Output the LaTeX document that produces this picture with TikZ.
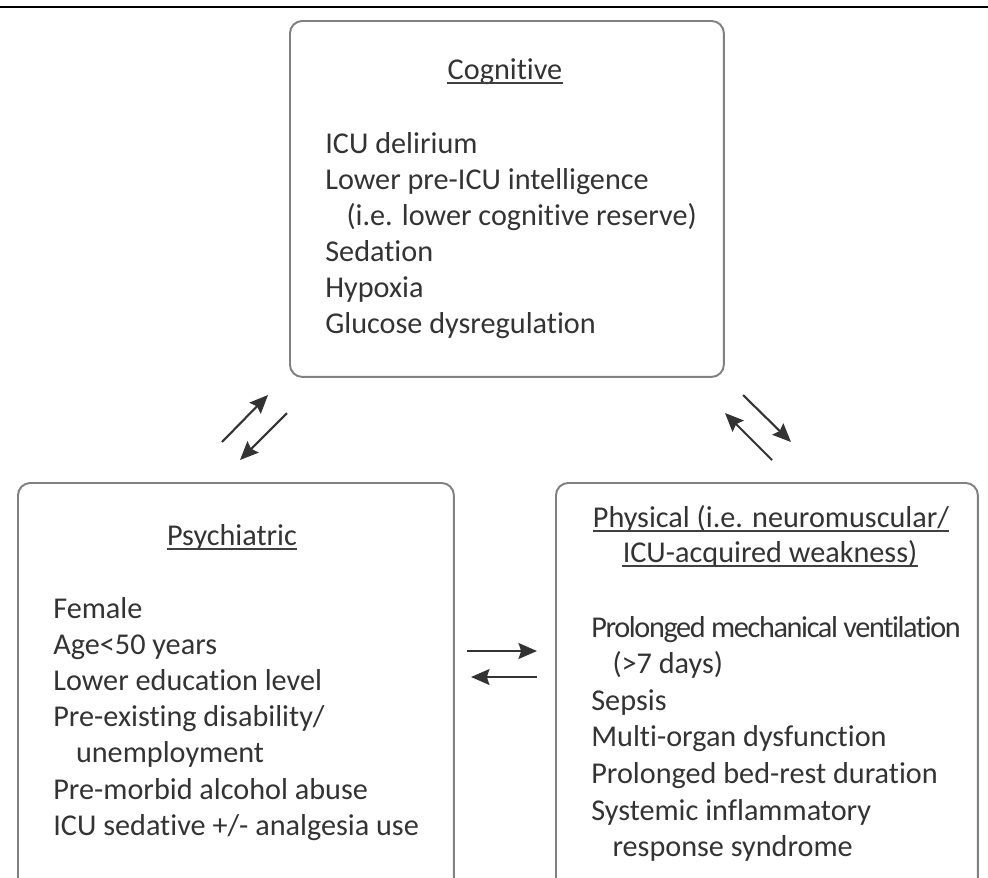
\documentclass[tikz,border=0pt]{standalone}
\usepackage{fontspec}
\setmainfont{Carlito}[Ligatures=CommonOff]
\usetikzlibrary{arrows.meta}
\newcommand{\riskfont}{\fontsize{17.2pt}{20pt}\selectfont}

\begin{document}
\begin{tikzpicture}[
        x=0.02cm, y=-0.02cm,
        panel/.style={draw=black!50, line width=1.1pt, rounded corners=7pt,
            anchor=north west, inner sep=0pt},
        heading/.style={anchor=base, inner sep=0pt, text=black!80, font=\riskfont},
        item/.style={anchor=base west, inner sep=0pt, text=black!80, font=\riskfont},
        uline/.style={draw=black!75, line width=1pt},
        link/.style={draw=black!80, line width=1.2pt,
            -{Stealth[length=10.5pt, width=9pt, inset=1.5pt]}}
    ]
    \useasboundingbox (0,0) rectangle (988,877);
    \draw[line width=1.1pt] (0,7) -- (988,7);

    % the three domains
    \node[panel, minimum width=8.68cm, minimum height=7.12cm] (cognitive) at (289,20) {};
    \node[panel, minimum width=8.72cm, minimum height=8.4cm] (psychiatric) at (17,482) {};
    \node[panel, minimum width=8.44cm, minimum height=8.4cm] (physical) at (555,482) {};

    \node[heading] (cog-title) at (505,79) {Cognitive};
    \node[heading] (psy-title) at (232,545) {Psychiatric};
    \node[heading] (phy-title) at (771,527) {Physical (i.e. neuromuscular/};
    \node[heading] (phy-title2) at (770,562) {ICU-acquired weakness)};
    \foreach \n in {cog-title, psy-title, phy-title, phy-title2}
        \draw[uline] ([yshift=-2.4pt]\n.base west) -- ([yshift=-2.4pt]\n.base east);

    % risk factors, one line each
    \foreach \t [count=\i] in {ICU delirium, Lower pre-ICU intelligence,
        \hspace*{0.7em}(i.e. lower cognitive reserve), Sedation, Hypoxia,
        Glucose dysregulation}
        \node[item] (cog-\i) at (325, 153+36*\i-36) {\t};
    \foreach \t [count=\i] in {Female, Age<50 years, Lower education level,
        Pre-existing disability/, \hspace*{0.75em}unemployment,
        Pre-morbid alcohol abuse, ICU sedative +/- analgesia use}
        \node[item] (psy-\i) at (53, 618+36.2*\i-36.2) {\t};
    \foreach \t [count=\i] in {{\addfontfeature{LetterSpace=-4.5}Prolonged mechanical ventilation},
        \hspace*{0.7em}(>7 days), Sepsis, Multi-organ dysfunction,
        Prolonged bed-rest duration, Systemic inflammatory,
        \hspace*{0.7em}response syndrome}
        \node[item] (phy-\i) at (591, 637+36.6*\i-36.6) {\t};

    % arrow ends between the boxes
    \path (222,442) coordinate (cp-a) (268,395) coordinate (cp-b)
        (287,413) coordinate (cp-c) (240,460) coordinate (cp-d)
        (743,395) coordinate (cf-a) (791,442) coordinate (cf-b)
        (772,460) coordinate (cf-c) (725,413) coordinate (cf-d)
        (467,651) coordinate (pf-a) (537,651) coordinate (pf-b)
        (537,677) coordinate (pf-c) (471,677) coordinate (pf-d);
    \draw[link] (cp-a) -- (cp-b);
    \draw[link] (cp-c) -- (cp-d);
    \draw[link] (cf-a) -- (cf-b);
    \draw[link] (cf-c) -- (cf-d);
    \draw[link] (pf-a) -- (pf-b);
    \draw[link] (pf-c) -- (pf-d);
\end{tikzpicture}
\end{document}
